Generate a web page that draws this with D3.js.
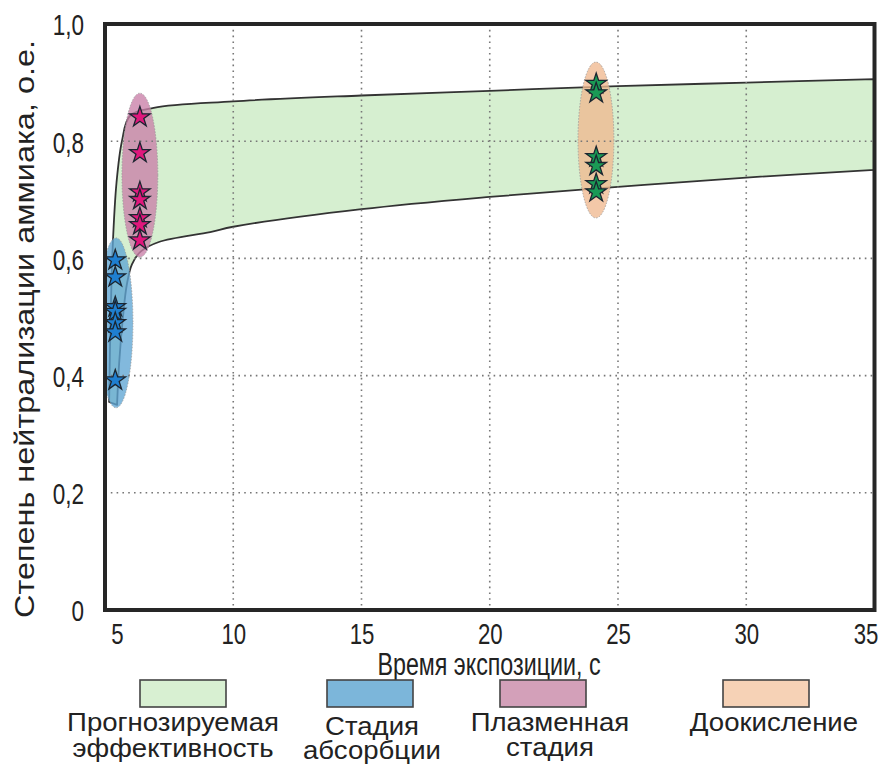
<!DOCTYPE html>
<html>
<head>
<meta charset="utf-8">
<script src="https://cdn.jsdelivr.net/npm/d3@7"></script>
<style>
  html, body { margin: 0; padding: 0; background: #fff; }
  svg { display: block; }
  text { font-family: "Liberation Sans", Arial, sans-serif; }
</style>
</head>
<body>
<svg id="chart" width="888" height="764"></svg>
<script>
// Axis ticks
const xTicks = [5, 10, 15, 20, 25, 30, 35];
const yTicks = [0, 0.2, 0.4, 0.6, 0.8, 1.0];
const yTickLabels = ["0", "0,2", "0,4", "0,6", "0,8", "1,0"];

// Forecast efficiency band: upper and lower boundaries [time, degree]
const bandUpper = [[5.16, 0.355], [5.22, 0.50], [5.30, 0.62], [5.45, 0.73], [5.66, 0.80],
  [5.97, 0.843], [6.9, 0.857], [10, 0.868], [15, 0.878], [20, 0.886], [25, 0.894], [30, 0.900], [35, 0.906]];
const bandLower = [[35, 0.751], [30, 0.738], [25, 0.722], [20, 0.705], [15, 0.684], [10, 0.654],
  [9.1, 0.645], [7.1, 0.628], [6.4, 0.612], [6.05, 0.590], [5.85, 0.555], [5.7, 0.50], [5.55, 0.42], [5.47, 0.35]];

// Stage regions: centre and half-extents in data units
const stageNames = ["Стадия абсорбции", "Плазменная стадия", "Доокисление"];
const stageCx = [5.43, 6.36, 24.14];
const stageCy = [0.49, 0.742, 0.802];
const stageRx = [0.66, 0.70, 0.70];
const stageRy = [0.145, 0.14, 0.133];

// Measured points per stage
const absorptionX = 5.4;
const absorptionY = [0.597, 0.568, 0.517, 0.509, 0.490, 0.474, 0.392];
const plasmaX = 6.36;
const plasmaY = [0.841, 0.780, 0.713, 0.700, 0.669, 0.657, 0.631];
const postOxX = 24.15;
const postOxY = [0.898, 0.882, 0.773, 0.758, 0.727, 0.713];

// Legend
const legendLabels = [["Прогнозируемая", "эффективность"], ["Стадия", "абсорбции"], ["Плазменная", "стадия"], ["Доокисление"]];

const stageFill = ["#5fa5d3", "#c97fa8", "#f0b890"];
const starFill = ["#1f7fd0", "#e0177c", "#1a9a55"];
const legendFill = ["#d8f0d2", "#7cb6da", "#d3a0b9", "#f6d2b6"];

const svg = d3.select("#chart");
const m = { left: 105, right: 874.5, top: 24, bottom: 610 };

const x = d3.scaleLinear().domain([5, 35]).range([m.left, m.right]);
const y = d3.scaleLinear().domain([0, 1]).range([m.bottom, m.top]);

// Horizontal squeeze/stretch of lettering along its own baseline
function condense(sel, k) {
  sel.each(function () {
    const w = this.getComputedTextLength();
    d3.select(this).attr("textLength", w * k).attr("lengthAdjust", "spacingAndGlyphs");
  });
}

svg.append("defs").append("clipPath").attr("id", "plot")
  .append("rect").attr("x", m.left).attr("y", m.top)
  .attr("width", m.right - m.left).attr("height", m.bottom - m.top);

const plot = svg.append("g").attr("clip-path", "url(#plot)");

// Band
const line = d3.line().x(d => x(d[0])).y(d => y(d[1])).curve(d3.curveCatmullRom.alpha(0.5));
const upperPath = line(bandUpper);
const lowerPath = line(bandLower);
plot.append("path")
  .attr("d", upperPath + "L" + lowerPath.slice(1) + "Z")
  .attr("fill", "#d6efd0")
  .attr("stroke", "#333")
  .attr("stroke-width", 1.8)
  .attr("stroke-linejoin", "round");

// Stage ellipses
plot.selectAll("ellipse.stage").data(stageNames).join("ellipse")
  .attr("class", "stage")
  .attr("cx", (d, i) => x(stageCx[i]))
  .attr("cy", (d, i) => y(stageCy[i]))
  .attr("rx", (d, i) => x(stageCx[i] + stageRx[i]) - x(stageCx[i]))
  .attr("ry", (d, i) => y(stageCy[i] - stageRy[i]) - y(stageCy[i]))
  .attr("fill", (d, i) => stageFill[i])
  .attr("fill-opacity", 0.78)
  .attr("stroke", "#999")
  .attr("stroke-width", 0.8)
  .attr("stroke-dasharray", "1.5,1.5");

// Dotted grid
const grid = svg.append("g").attr("stroke", "#777").attr("stroke-width", 1.6)
  .attr("stroke-dasharray", "1.6,4.2");
grid.selectAll("line.gx").data(xTicks.slice(1, -1)).join("line")
  .attr("x1", d => x(d)).attr("x2", d => x(d))
  .attr("y1", m.top).attr("y2", m.bottom);
grid.selectAll("line.gy").data(yTicks.slice(1, -1)).join("line")
  .attr("y1", d => y(d)).attr("y2", d => y(d))
  .attr("x1", m.left).attr("x2", m.right);

// Stars
const star = d3.symbol().type(d3.symbolStar).size(130);
const starSets = [
  absorptionY.map(v => [absorptionX, v]),
  plasmaY.map(v => [plasmaX, v]),
  postOxY.map(v => [postOxX, v])
];
starSets.forEach((pts, i) => {
  svg.append("g").selectAll("path").data(pts).join("path")
    .attr("d", star)
    .attr("transform", d => `translate(${x(d[0])},${y(d[1])})`)
    .attr("fill", starFill[i])
    .attr("stroke", "#1b2530")
    .attr("stroke-width", 1.3)
    .attr("stroke-linejoin", "miter");
});

// Frame
svg.append("rect")
  .attr("x", m.left).attr("y", m.top)
  .attr("width", m.right - m.left).attr("height", m.bottom - m.top)
  .attr("fill", "none").attr("stroke", "#262626").attr("stroke-width", 4);

// Axes
const xAxis = d3.axisBottom(x).tickValues(xTicks).tickSize(0).tickPadding(0).tickFormat(d3.format("d"));
const gx = svg.append("g").attr("transform", `translate(0,${m.bottom + 34})`).call(xAxis);
gx.select(".domain").remove();
gx.attr("font-family", null).attr("font-size", null);
gx.selectAll("text").attr("font-size", 30).attr("fill", "#222")
  .attr("dy", 0)
  .attr("x", d => d === 5 ? 12 : (d === 35 ? -9 : 0))
  .call(condense, 0.74);

const yAxis = d3.axisLeft(y).tickValues(yTicks).tickSize(0).tickPadding(0)
  .tickFormat((d, i) => yTickLabels[i]);
const gy = svg.append("g").attr("transform", `translate(${m.left - 21},0)`).call(yAxis);
gy.select(".domain").remove();
gy.attr("font-family", null).attr("font-size", null);
gy.selectAll("text").attr("font-size", 30).attr("fill", "#222")
  .attr("dy", "0.36em")
  .call(condense, 0.75);

svg.append("text")
  .attr("x", 489).attr("y", 675).attr("text-anchor", "middle")
  .attr("font-size", 31).attr("fill", "#222").text("Время экспозиции, с")
  .call(condense, 0.75);

svg.append("text")
  .attr("transform", "translate(34,329) rotate(-90)")
  .attr("text-anchor", "middle")
  .attr("font-size", 28).attr("fill", "#222").text("Степень нейтрализации аммиака, о.е.")
  .call(sel => sel.attr("textLength", 578).attr("lengthAdjust", "spacingAndGlyphs"));

// Legend: swatch plus a one- or two-line caption
const legendRectX = [140, 327, 500, 723];
const legendTextX = [173, 372, 550, 774];
const legendBase = [731, 735, 731, 731];
const legendLead = [26, 24, 25, 0];
const lg = svg.append("g");
legendLabels.forEach((lines, i) => {
  lg.append("rect")
    .attr("x", legendRectX[i]).attr("y", 680).attr("width", 86).attr("height", 27)
    .attr("fill", legendFill[i]).attr("stroke", "#444").attr("stroke-width", 1.6);
  const t = lg.append("text")
    .attr("text-anchor", "middle").attr("font-size", 26).attr("fill", "#222");
  lines.forEach((s, j) => {
    t.append("tspan")
      .attr("x", legendTextX[i])
      .attr("y", legendBase[i] + j * legendLead[i])
      .text(s)
      .call(condense, 1.06);
  });
});
</script>
</body>
</html>
